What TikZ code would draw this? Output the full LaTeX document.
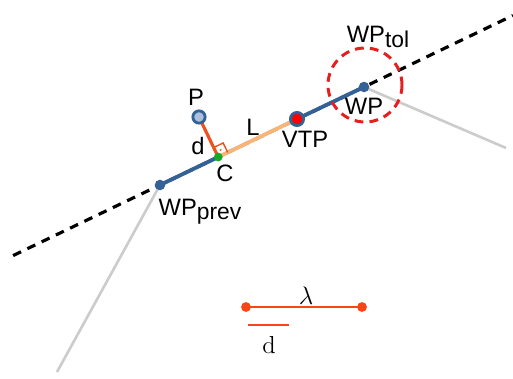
\documentclass[tikz,border=0pt]{standalone}
\usepackage{fontspec}
\setsansfont{Liberation Sans}
\usepackage{tikz}
\usetikzlibrary{arrows.meta,calc,positioning}
\definecolor{pathblue}{RGB}{52,98,150}
\definecolor{nodeblue}{RGB}{170,190,222}
\definecolor{perpred}{RGB}{240,80,30}
\definecolor{lorange}{RGB}{246,182,122}
\definecolor{tolred}{RGB}{232,30,30}
\definecolor{legred}{RGB}{250,70,20}
\definecolor{dotgreen}{RGB}{20,170,40}
\tikzset{
  lbl/.style={font=\sffamily\fontsize{13.5}{15}\selectfont, inner sep=1pt},
  wpdot/.style={circle, fill=pathblue, inner sep=0pt, minimum size=6pt},
  leglbl/.style={font=\fontsize{14}{16}\selectfont, inner sep=1pt}
}
\begin{document}
\begin{tikzpicture}[x=0.02cm,y=-0.02cm]
        \useasboundingbox (0,0) rectangle (513,378);
        % Define coordinates
        \coordinate (wpprev) at (160,185);
        \coordinate (wp) at (364,87);
        \coordinate (p) at (199,117);
        \coordinate (c) at ($(wpprev)!(p)!(wp)$);
        \coordinate (vtp) at (297,119);
        \coordinate (linestart) at ($(wpprev)!-0.72!(wp)$);
        \coordinate (lineend) at ($(wpprev)!1.73!(wp)$);
        \coordinate (prevleg) at (57,372);
        \coordinate (nextleg) at (506,148);
        % Neighbouring legs
        \draw[line width=1.5pt, black!20] (prevleg) -- (wpprev);
        \draw[line width=1.5pt, black!20] (wp) -- (nextleg);
        % Infinite line through the waypoints
        \draw[line width=1.8pt, dash pattern=on 5pt off 4pt] (linestart) -- (lineend);
        % Current leg
        \draw[line width=2.2pt, pathblue] (wpprev) -- (c);
        \draw[line width=2.2pt, pathblue] (vtp) -- (wp);
        \draw[line width=2.2pt, lorange] (c) -- (vtp);
        \draw[line width=1.8pt, perpred] (p) -- (c);
        % Right angle
        \coordinate (rp) at ($(c)!6pt!(p)$);
        \coordinate (rv) at ($(c)!6pt!(vtp)$);
        \draw[line width=0.8pt, perpred] (rp) -- ($(rp)+(rv)-(c)$) -- (rv);
        \fill[perpred] ($0.5*(rp)+0.5*(rv)$) circle (0.6pt);
        % Tolerance circle
        \draw[line width=1.7pt, tolred, dash pattern=on 5pt off 3.5pt] (365,85) circle (37);
        % Points
        \node[wpdot] (wpprevdot) at (wpprev) {};
        \node[wpdot] (wpdot) at (wp) {};
        \node[circle, fill=dotgreen, inner sep=0pt, minimum size=5pt] (cdot) at (c) {};
        \node[circle, draw=pathblue, line width=1.6pt, fill=nodeblue, inner sep=0pt, minimum size=7pt] (pdot) at (p) {};
        \node[circle, draw=pathblue, line width=1.6pt, fill=red, inner sep=0pt, minimum size=7.5pt] (vtpdot) at (vtp) {};
        % Labels
        \node[lbl] (plbl) at (196,97) {P};
        \node[lbl] (dlbl) at (198,146) {d};
        \node[lbl] (clbl) at (225,173) {C};
        \node[lbl] (llbl) at (253,127) {L};
        \node[lbl] (vtplbl) at (305,139) {VTP};
        \node[lbl] (wplbl) at (364,106) {WP};
        \node[lbl] (toltlbl) at (378,37) {WP\raisebox{-0.35ex}{\fontsize{13}{14}\selectfont tol}};
        \node[lbl] (prevlbl) at (200,212) {WP\raisebox{-0.35ex}{\fontsize{13}{14}\selectfont prev}};
        % Legend
        \coordinate (lama) at (246,307);
        \coordinate (lamb) at (362,307);
        \coordinate (da) at (248,325);
        \coordinate (db) at (289,325);
        \draw[line width=1.7pt, legred] (lama) -- (lamb);
        \fill[legred] (lama) circle (2.8pt) (lamb) circle (2.8pt);
        \draw[line width=1.7pt, legred] (da) -- (db);
        \node[leglbl] (lamlbl) at (306,296) {$\lambda$};
        \node[leglbl] (dleglbl) at (269,345) {d};
\end{tikzpicture}
\end{document}
